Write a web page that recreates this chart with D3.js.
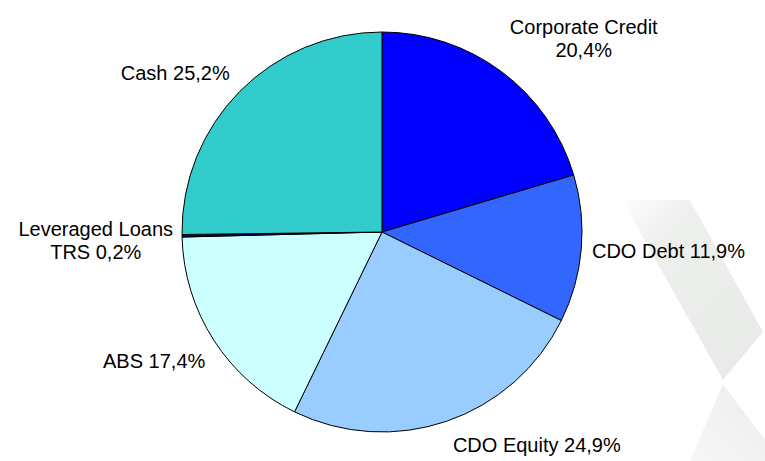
<!DOCTYPE html>
<html>
<head>
<meta charset="utf-8">
<script src="https://cdn.jsdelivr.net/npm/d3@7"></script>
<style>
  body { margin: 0; background: #fff; }
  svg { display: block; }
  text { font-family: Arial, "Liberation Sans", sans-serif; font-size: 20px; fill: #000; }
</style>
</head>
<body>
<div id="chart"></div>
<script>
// data, clockwise from 12 o'clock
const categories = ['Corporate Credit', 'CDO Debt', 'CDO Equity', 'ABS', 'Leveraged Loans TRS', 'Cash'];
const shares = [20.4, 11.9, 24.9, 17.4, 0.2, 25.2];
const labelLines = [
  ['Corporate Credit', '20,4%'],
  ['CDO Debt 11,9%'],
  ['CDO Equity 24,9%'],
  ['ABS 17,4%'],
  ['Leveraged Loans', 'TRS 0,2%'],
  ['Cash 25,2%']
];
const sliceColors = ['#0000ff', '#3366ff', '#99ccff', '#ccffff', '#000080', '#33cccc'];

// small hand nudges for the label boxes (excel moves them around a bit)
const labelNudge = [[29, -3], [-4, 0], [58, -1], [-4, 6], [6, 4], [-15, 0]];

const width = 765, height = 461;
const cx = 382, cy = 232, radius = 200;
const labelRadius = 215, lineHeight = 23;

const svg = d3.select('#chart').append('svg')
  .attr('width', width)
  .attr('height', height);

// faint logo watermark in the lower right
const defs = svg.append('defs');
const grad = defs.append('linearGradient')
  .attr('id', 'wm')
  .attr('gradientUnits', 'userSpaceOnUse')
  .attr('x1', 610).attr('y1', 200).attr('x2', 740).attr('y2', 330);
grad.append('stop').attr('offset', '0%').attr('stop-color', '#ffffff');
grad.append('stop').attr('offset', '35%').attr('stop-color', '#eef0ee');
grad.append('stop').attr('offset', '100%').attr('stop-color', '#e8ebe8');

const grad2 = defs.append('linearGradient')
  .attr('id', 'wm2')
  .attr('gradientUnits', 'userSpaceOnUse')
  .attr('x1', 690).attr('y1', 461).attr('x2', 760).attr('y2', 390);
grad2.append('stop').attr('offset', '0%').attr('stop-color', '#f6f7f6');
grad2.append('stop').attr('offset', '100%').attr('stop-color', '#eceeec');

const wm = svg.append('g').attr('class', 'watermark');
wm.append('path')
  .attr('d', 'M622,200 L690,200 L763,332 L723,380 Z')
  .attr('fill', 'url(#wm)');
wm.append('path')
  .attr('d', 'M723,384 L765,440 L765,461 L690,461 Z')
  .attr('fill', 'url(#wm2)');

const pie = d3.pie().sort(null).value((d) => d)(shares);
const arc = d3.arc().innerRadius(0).outerRadius(radius);

const g = svg.append('g')
  .attr('transform', 'translate(' + cx + ',' + cy + ')');

g.selectAll('.slice')
  .data(pie)
  .enter()
  .append('path')
  .attr('class', 'slice')
  .attr('d', arc)
  .attr('fill', (d, i) => sliceColors[i])
  .attr('stroke', '#000')
  .attr('stroke-width', 1)
  .attr('stroke-linejoin', 'round');

// labels
const labels = svg.append('g').attr('class', 'labels');
pie.forEach((d, i) => {
  const mid = (d.startAngle + d.endAngle) / 2;
  const s = Math.sin(mid), c = Math.cos(mid);
  const px = cx + labelRadius * s;
  const py = cy - labelRadius * c;

  const t = labels.append('text').attr('text-anchor', 'middle');
  const lines = labelLines[i];
  lines.forEach((ln) => t.append('tspan').text(ln));
  let w = 0;
  t.selectAll('tspan').each(function () {
    w = Math.max(w, this.getComputedTextLength());
  });
  const h = lines.length * lineHeight;
  const bx = px + s * w / 2 + labelNudge[i][0];
  const by = py - c * h / 2 + labelNudge[i][1];

  t.selectAll('tspan')
    .attr('x', bx)
    .attr('y', (_, j) => by - (lines.length - 1) * lineHeight / 2 + j * lineHeight + 7);
});
</script>
</body>
</html>
